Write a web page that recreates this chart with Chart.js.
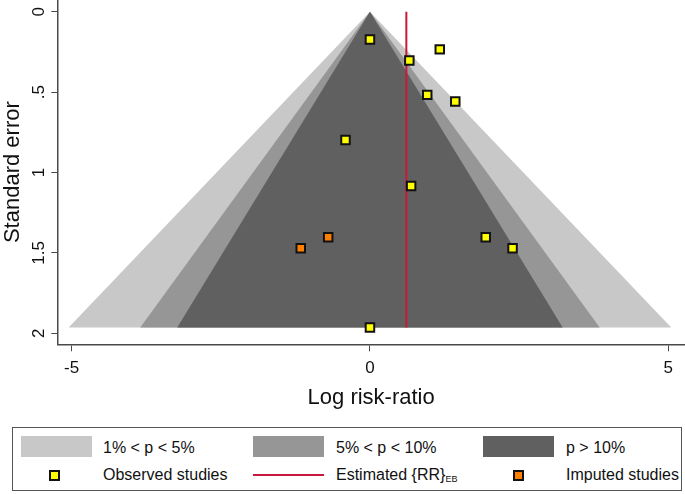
<!DOCTYPE html>
<html>
<head>
<meta charset="utf-8">
<script src="https://cdn.jsdelivr.net/npm/chart.js@4.4.1/dist/chart.umd.min.js"></script>
<style>
  body { margin: 0; background: #fff; font-family: "Liberation Sans", Arial, sans-serif; }
  #wrap { position: relative; width: 685px; height: 494px; }
  #funnel { position: absolute; left: 0; top: 0; }
  #legend { position: absolute; left: 12px; top: 427px; width: 668px; height: 62px;
            border: 1.5px solid #555; }
  .sw { position: absolute; width: 71px; height: 21px; }
  .lt { position: absolute; font-size: 16px; color: #111; line-height: 18px; white-space: nowrap; }
  .mk { position: absolute; width: 7px; height: 7px; border: 2px solid #111; }
  .ln { position: absolute; width: 71px; height: 2px; background: #c8193c; }
  sub { font-size: 9px; vertical-align: -2px; }
</style>
</head>
<body>
<div id="wrap">
  <canvas id="funnel" width="685" height="420"></canvas>
  <div id="legend"></div>
</div>
<script>
// values
var xTicks = [-5, 0, 5];
var xTickLabels = ['-5', '0', '5'];
var yTicks = [0, 0.5, 1, 1.5, 2];
var yTickLabels = ['0', '.5', '1', '1.5', '2'];

// contour regions: bottom-left, apex, bottom-right
var funnelSe = [1.963, 0, 1.963];
var lightX = [-5.05, 0, 5.05];    // 1% < p < 5%
var mediumX = [-3.85, 0, 3.85];   // 5% < p < 10%
var darkX = [-3.23, 0, 3.23];     // p > 10%

var estimateRR = 0.61;
var estimateSe = [0, 1.963];

var observedX = [0.0, 1.17, 0.66, 0.96, 1.43, -0.41, 0.69, 1.94, 2.39, 0.0];
var observedSe = [0.172, 0.234, 0.303, 0.517, 0.558, 0.797, 1.084, 1.402, 1.470, 1.963];
var imputedX = [-0.70, -1.16];
var imputedSe = [1.402, 1.470];

var FONT = '"Liberation Sans", Arial, sans-serif';
var AXIS = '#4a4a4a';

function pts(xs, ys) {
    var out = [];
    for (var i = 0; i < xs.length; i++) out.push({x: xs[i], y: ys[i]});
    return out;
}
function region(xs, color, order) {
    var d = pts(xs, funnelSe);
    d.push(d[0]);
    return {
        type: 'line', data: d, order: order, fill: 'shape',
        backgroundColor: color, borderColor: color, borderWidth: 0,
        pointRadius: 0, tension: 0
    };
}
function noPad(s) {
    s.paddingLeft = 0; s.paddingRight = 0; s.paddingTop = 0; s.paddingBottom = 0;
}

var yLabelPlugin = {
    id: 'yLabels',
    afterDraw: function(chart) {
        var ctx = chart.ctx, sc = chart.scales.y;
        ctx.save();
        ctx.font = '17px ' + FONT;
        ctx.fillStyle = '#111';
        ctx.textAlign = 'center';
        ctx.textBaseline = 'middle';
        for (var i = 0; i < yTicks.length; i++) {
            ctx.save();
            ctx.translate(39, sc.getPixelForValue(yTicks[i]));
            ctx.rotate(-Math.PI / 2);
            ctx.fillText(yTickLabels[i], 0, 0);
            ctx.restore();
        }
        ctx.restore();
    }
};

new Chart(document.getElementById('funnel'), {
    type: 'scatter',
    data: {
        datasets: [
            {
                label: 'Observed studies', data: pts(observedX, observedSe), order: 0,
                pointStyle: 'rect', pointRadius: 6, pointHoverRadius: 6,
                backgroundColor: '#ffff00', borderColor: '#111', borderWidth: 2
            },
            {
                label: 'Imputed studies', data: pts(imputedX, imputedSe), order: 0,
                pointStyle: 'rect', pointRadius: 6, pointHoverRadius: 6,
                backgroundColor: '#ff8000', borderColor: '#111', borderWidth: 2
            },
            {
                type: 'line', label: 'Estimated', order: 1,
                data: pts([estimateRR, estimateRR], estimateSe),
                borderColor: '#c8193c', borderWidth: 2, pointRadius: 0, fill: false
            },
            region(darkX, '#606060', 2),
            region(mediumX, '#969696', 3),
            region(lightX, '#c8c8c8', 4)
        ]
    },
    options: {
        responsive: false,
        animation: false,
        layout: { padding: 0, autoPadding: false },
        plugins: { legend: { display: false }, tooltip: { enabled: false } },
        scales: {
            x: {
                type: 'linear', position: 'bottom', min: -5.24, max: 5.28,
                afterBuildTicks: function(s) { s.ticks = xTicks.map(function(v) { return {value: v}; }); },
                afterFit: function(s) { s.height = 75.7; noPad(s); },
                grid: { drawOnChartArea: false, drawTicks: true, tickLength: 7, color: AXIS, lineWidth: 1 },
                border: { display: true, color: AXIS, width: 1.5 },
                ticks: {
                    padding: 7, color: '#111', font: { family: FONT, size: 17 },
                    maxRotation: 0,
                    callback: function(v) { var i = xTicks.indexOf(v); return i < 0 ? '' : xTickLabels[i]; }
                },
                title: { display: true, text: 'Log risk-ratio', color: '#111',
                         font: { family: FONT, size: 22 }, padding: { top: 0, bottom: 9 } }
            },
            y: {
                type: 'linear', position: 'left', reverse: true, min: -0.073, max: 2.068,
                afterBuildTicks: function(s) { s.ticks = yTicks.map(function(v) { return {value: v}; }); },
                afterFit: function(s) { s.width = 57.3; noPad(s); },
                grid: { drawOnChartArea: false, drawTicks: true, tickLength: 6, color: AXIS, lineWidth: 1 },
                border: { display: true, color: AXIS, width: 1.5 },
                ticks: { display: false },
                title: { display: true, text: 'Standard error', color: '#111',
                         font: { family: FONT, size: 22 }, padding: { top: 0, bottom: 0 } }
            }
        }
    },
    plugins: [yLabelPlugin]
});

// legend box laid out like the original (Stata style, 3 columns x 2 rows)
var lg = document.getElementById('legend');
var ox = 12, oy = 427;
function add(html) { lg.insertAdjacentHTML('beforeend', html); }
function sw(x, color) { add('<div class="sw" style="left:' + (x - ox) + 'px;top:' + (435 - oy) + 'px;background:' + color + '"></div>'); }
function txt(x, cy, s) { add('<div class="lt" style="left:' + (x - ox) + 'px;top:' + (cy - oy - 9) + 'px">' + s + '</div>'); }
function mk(cx, color) { add('<div class="mk" style="left:' + (cx - ox - 5.5) + 'px;top:' + (474.3 - oy - 5.5) + 'px;background:' + color + '"></div>'); }

sw(20, '#c8c8c8'); txt(102, 446.7, '1% &lt; p &lt; 5%');
sw(252, '#969696'); txt(335, 446.7, '5% &lt; p &lt; 10%');
sw(482, '#606060'); txt(565, 446.7, 'p &gt; 10%');
mk(53.3, '#ffff00'); txt(102, 474.3, 'Observed studies');
add('<div class="ln" style="left:' + (252 - ox) + 'px;top:' + (473 - oy) + 'px"></div>');
txt(335, 474.3, 'Estimated {RR}<sub>EB</sub>');
mk(517.7, '#ff8000'); txt(565, 474.3, 'Imputed studies');
</script>
</body>
</html>
